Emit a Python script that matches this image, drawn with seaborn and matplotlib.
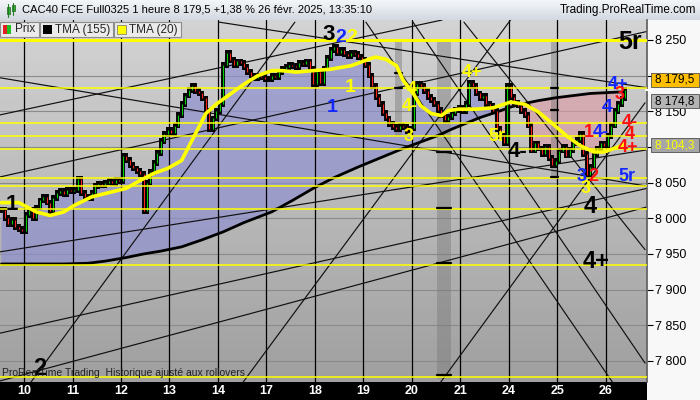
import matplotlib
matplotlib.use("Agg")
import matplotlib.pyplot as plt
import numpy as np
import pandas as pd
import seaborn as sns
from matplotlib.colors import LinearSegmentedColormap
from matplotlib.patches import Rectangle

# hourly closes, one list per session
s07 = [8012, 8000, 7992, 7998, 7988, 7985, 7982]
s10 = [8005, 8012, 8000, 8015, 8025, 8030, 8022, 8010, 8028, 8035, 8038, 8034, 8040, 8038]
s11 = [8040, 8055, 8035, 8030, 8028, 8035, 8045, 8048, 8046, 8050, 8052, 8049, 8054, 8052]
s12 = [8088, 8082, 8075, 8070, 8066, 8062, 8010, 8050, 8065, 8078, 8092, 8108, 8118, 8124]
s13 = [8120, 8130, 8145, 8160, 8172, 8180, 8185, 8178, 8175, 8168, 8150, 8125, 8140, 8150]
s14 = [8160, 8215, 8232, 8222, 8215, 8220, 8218, 8212, 8205, 8200, 8196, 8200, 8198, 8195]
s17 = [8195, 8200, 8198, 8205, 8210, 8212, 8215, 8214, 8212, 8218, 8216, 8220, 8210, 8188]
s18 = [8205, 8190, 8210, 8225, 8236, 8240, 8232, 8236, 8230, 8228, 8232, 8230, 8226, 8222]
s19 = [8215, 8200, 8185, 8170, 8160, 8148, 8140, 8132, 8128, 8125, 8130, 8128, 8122, 8126]
s20 = [8175, 8188, 8185, 8178, 8170, 8166, 8160, 8152, 8145, 8138, 8142, 8148, 8152, 8155]
s21 = [8150, 8160, 8190, 8185, 8175, 8168, 8172, 8160, 8158, 8150, 8125, 8115, 8105, 8185]
s24 = [8170, 8162, 8158, 8150, 8145, 8130, 8095, 8105, 8098, 8090, 8100, 8085, 8075, 8080]
s25 = [8095, 8100, 8088, 8096, 8105, 8110, 8118, 8090, 8060, 8072, 8090, 8098, 8105, 8102]
s26 = [8115, 8130, 8150, 8160, 8168, 8179.5]
sessions = [s07, s10, s11, s12, s13, s14, s17, s18, s19, s20, s21, s24, s25, s26]
day_labels = ["10", "11", "12", "13", "14", "17", "18", "19", "20", "21", "24", "25", "26"]

tma20_bar = [0, 5, 10, 14, 18, 21, 26, 31, 36, 40, 44, 48, 52, 54, 57, 59, 62, 66, 70,
             74, 78, 81, 85, 90, 95, 101, 106, 108, 111, 114, 116, 119, 121, 124, 127,
             129, 132, 137, 142, 147, 151, 155, 159, 163, 167, 171, 174, 178, 180]
tma20_val = [8022, 8022, 8009, 8004, 8009, 8018, 8030, 8036, 8042, 8053, 8063, 8070, 8081,
             8100, 8128, 8147, 8160, 8174, 8188, 8200, 8207, 8207, 8205, 8207, 8209, 8214,
             8223, 8226, 8223, 8214, 8193, 8174, 8158, 8147, 8144, 8151, 8153, 8153, 8155,
             8163, 8160, 8149, 8133, 8116, 8102, 8093, 8093, 8100, 8104.3]

tma155_bar = [0, 18, 25, 30, 36, 41, 46, 52, 58, 64, 70, 78, 84, 90, 96, 103, 110, 116,
              121, 126, 130, 134, 138, 143, 147, 151, 155, 160, 165, 170, 178, 180]
tma155_val = [7936, 7936, 7937, 7940, 7945, 7950, 7954, 7960, 7970, 7981, 7994, 8009, 8025,
              8042, 8057, 8072, 8086, 8098, 8107, 8116, 8125, 8133, 8141, 8149, 8156, 8161,
              8165, 8169, 8172, 8175, 8177, 8177]

yellow_levels = [8250, 8183, 8134, 8115, 8097, 8057, 8045, 8013, 7935, 7777]
price_ticks = [7800, 7850, 7900, 7950, 8000, 8050, 8100, 8150, 8200, 8250]
hidden_ticks = [8100, 8200]   # covered by the price boxes

# drawn trend lines: bar, price -> bar, price
trend_lines = [
    (-0.4, 7839, 186.4, 8042),
    (-0.4, 7953, 186.4, 8096),
    (-0.4, 8058, 186.4, 8262),
    (-0.4, 8145, 127.2, 8278),
    (-0.4, 8197, 186.4, 8045),
    (-0.4, 7772, 186.4, 8016),
    (62.8, 8275, 186.4, 8183),
    (7.4, 7763, 84.7, 8275),
    (69.7, 7770, 147.4, 8281),
    (126.6, 7769, 185.8, 8162),
    (105.2, 8275, 177.4, 7763),
    (118.8, 8275, 185.8, 7797),
    (133.5, 8275, 185.8, 7956),
]

BLUE, RED, YEL = "#1428ff", "#ff1010", "#ffff00"
wave_labels = [
    ("1", 3, 8019, "black", 16), ("2", 11, 7790, "black", 17),
    ("3", 94.5, 8257, "black", 16), ("2", 98, 8254, BLUE, 14), ("2", 101, 8253, YEL, 14),
    ("1", 100.6, 8183, YEL, 14), ("1", 95.4, 8155, BLUE, 14),
    ("5r", 181.4, 8247, "black", 18),
    ("4", 118.5, 8180, YEL, 13), ("4-", 118, 8157, YEL, 13), ("3", 117.4, 8114, YEL, 13),
    ("4+", 135.8, 8205, YEL, 13), ("5r", 143, 8114, YEL, 13), ("4-", 149.1, 8094, "black", 16),
    ("4+", 178, 8187, BLUE, 13), ("3", 178.5, 8174, RED, 13), ("4", 174.8, 8155, BLUE, 14),
    ("4-", 181.4, 8135, RED, 13), ("4", 181.4, 8117, RED, 13), ("4+", 180.8, 8099, RED, 13),
    ("1", 169.5, 8120, RED, 13), ("4-", 173, 8120, BLUE, 13),
    ("3", 168.7, 8042, YEL, 13), ("3", 167.6, 8059, BLUE, 13), ("2", 171, 8058, RED, 13),
    ("5r", 180.6, 8058, BLUE, 13), ("4", 169.9, 8016, "black", 17), ("4+", 171.6, 7939, "black", 17),
]

# darker session blocks: bar from, bar to, price top, price bottom, levels marked black inside
shaded = [
    (113.6, 115.6, 8250, 8115, [8204, 8183]),
    (125.7, 129.8, 8250, 7775, [8093, 8014, 7937, 7780]),
    (158.6, 160.6, 8250, 8057, [8183, 8152, 8058]),
]

sns.set_theme(style="white")
plt.rcParams["font.family"] = ["Liberation Sans", "DejaVu Sans"]

close = np.concatenate([np.array(s, dtype=float) for s in sessions])
bars = np.arange(len(close))
opens = np.r_[close[0], close[:-1]]
day_lines = np.cumsum([len(s) for s in sessions[:-1]]) - 0.5

fig = plt.figure(figsize=(7, 4), dpi=100)

# backgrounds, in pixels
bg = fig.add_axes([0, 0, 1, 1], zorder=0)
grad = np.linspace(0, 1, 64).reshape(-1, 1)
bg.imshow(grad, extent=(0, 700, 20, 0), aspect="auto",
          cmap=LinearSegmentedColormap.from_list("bar", ["#f4f6f9", "#d3d9e1"]))
bg.imshow(grad, extent=(0, 647, 382, 20), aspect="auto",
          cmap=LinearSegmentedColormap.from_list("pane", ["#d3d3d3", "#a0a0a0"]))
bg.add_patch(Rectangle((647, 20), 53, 380, fc="#f8f8f8", ec="none"))
bg.add_patch(Rectangle((0, 382), 647, 18, fc="black", ec="none"))
bg.set_xlim(0, 700)
bg.set_ylim(400, 0)
bg.axis("off")

ax = fig.add_axes([0, 18 / 400, 647 / 700, 362 / 400], zorder=1)
ax.patch.set_visible(False)

for p in price_ticks:
    ax.axhline(p, color="#8a8a8a", lw=0.8, zorder=1)

split = 143
tb = np.array(tma155_bar)
tv = np.array(tma155_val, dtype=float)
lft = tb <= split
ax.fill(np.r_[bars[:split + 1], tb[lft][::-1]], np.r_[close[:split + 1], tv[lft][::-1]],
        color="#9090d0", alpha=0.7, lw=0, zorder=1.2)
rgt = tb >= split
ax.fill(np.r_[bars[split:], tb[rgt][::-1]], np.r_[close[split:], tv[rgt][::-1]],
        color="#dc9ca6", alpha=0.65, lw=0, zorder=1.2)

for x0, x1, top, bot, marks in shaded:
    ax.fill_between([x0, x1], [bot, bot], [top, top], color="#7a7a7a", alpha=0.45, lw=0, zorder=1.3)
    for m in marks:
        ax.plot([x0, x1], [m, m], color="black", lw=1.6, zorder=4.6)

for d in day_lines:
    ax.axvline(d, color="black", lw=0.9, zorder=2)

for b0, p0, b1, p1 in trend_lines:
    ax.plot([b0, b1], [p0, p1], color="#101010", lw=0.85, zorder=2.2)

sns.lineplot(x=tma155_bar, y=tma155_val, color="black", lw=2.0, ax=ax, zorder=3)

lo = np.minimum(opens, close)
hi = np.maximum(opens, close)
ax.vlines(bars, lo - 4, hi + 4, color="black", lw=2.8, zorder=4)
ax.vlines(bars, lo, hi, colors=np.where(close >= opens, "#00d000", "#ff2020"), lw=0.8, zorder=4.1)

for lvl in yellow_levels:
    ax.axhline(lvl, color=YEL, lw=2.2 if lvl == 8250 else 1.1, zorder=4.5)

sns.lineplot(x=tma20_bar, y=tma20_val, color=YEL, lw=2.6, ax=ax, zorder=5)

for txt, b, p, c, s in wave_labels:
    ax.text(b, p, txt, color=c, fontsize=s, fontweight="bold", ha="center", va="center", zorder=6)

ax.set_xlim(-0.43, 186.35)
ax.set_ylim(7770.5, 8278)
ax.set_xlabel("")
ax.set_ylabel("")
ax.set_xticks([])
ax.yaxis.tick_right()
ax.set_yticks(price_ticks)
ax.set_yticklabels(["" if p in hidden_ticks else f"{p // 1000} {p % 1000:03d}" for p in price_ticks])
ax.tick_params(axis="y", length=4, width=0.8, color="black", labelcolor="black",
               labelsize=9, pad=2, right=True)
for name, sp in ax.spines.items():
    sp.set_visible(name == "right")
ax.spines["right"].set_color("#606060")

for d, lab in zip(day_lines, day_labels):
    ax.text(d, -0.026, lab, transform=ax.get_xaxis_transform(), color="white",
            fontsize=9, fontweight="bold", ha="center", va="center", clip_on=False)
ax.text(0.003, 0.016, "ProRealTime Trading  Historique ajusté aux rollovers",
        transform=ax.transAxes, fontsize=7.5, color="#202020", zorder=7)

# overlay: title bar, legend, price boxes (pixel coordinates)
fg = fig.add_axes([0, 0, 1, 1], zorder=3)
fg.set_xlim(0, 700)
fg.set_ylim(400, 0)
fg.axis("off")
fg.patch.set_visible(False)

fg.text(22, 10, "CAC40 FCE Full0325 1 heure 8 179,5 +1,38 % 26 févr. 2025, 13:35:10",
        fontsize=8, va="center", ha="left", color="black")
fg.text(696, 10, "Trading.ProRealTime.com", fontsize=8.5, va="center", ha="right", color="black")
fg.plot([8, 8], [4, 17], color="#208020", lw=0.8)
fg.add_patch(Rectangle((6.5, 7), 3, 7, fc="#30b030", ec="#206020", lw=0.5))
fg.plot([13, 13], [3, 15], color="#208020", lw=0.8)
fg.add_patch(Rectangle((11.5, 5), 3, 6, fc="#30b030", ec="#206020", lw=0.5))

legend = [("Prix", 0, 39), ("TMA (155)", 40, 73), ("TMA (20)", 114, 67)]
for name, x0, w in legend:
    fg.add_patch(Rectangle((x0, 22), w, 15, fc="#ebebeb", ec="#8c8c8c", lw=0.8))
fg.add_patch(Rectangle((3, 25), 4, 9, fc="#e02020", ec="none"))
fg.add_patch(Rectangle((7, 25), 4, 9, fc="#20c020", ec="none"))
fg.add_patch(Rectangle((43, 25), 9, 9, fc="black", ec="none"))
fg.add_patch(Rectangle((117, 25), 9, 9, fc=YEL, ec="#707070", lw=0.5))
fg.text(15, 29.5, "Prix", fontsize=8.5, va="center")
fg.text(55, 29.5, "TMA (155)", fontsize=8.5, va="center")
fg.text(129, 29.5, "TMA (20)", fontsize=8.5, va="center")

boxes = [("8 179,5", 73, "#ffbf00", "black"), ("8 174,8", 94, "#b4b4b4", "black"),
         ("8 104,3", 138, "#a6a6a6", YEL)]
for txt, y0, fc, tc in boxes:
    fg.add_patch(Rectangle((651, y0), 48, 13.5, fc=fc, ec="#505050", lw=0.6))
    fg.text(675, y0 + 7, txt, fontsize=8.5, ha="center", va="center", color=tc)
fg.plot([646, 652], [90, 90], color="white", lw=1.5)

fig.savefig("out.png", dpi=100)
